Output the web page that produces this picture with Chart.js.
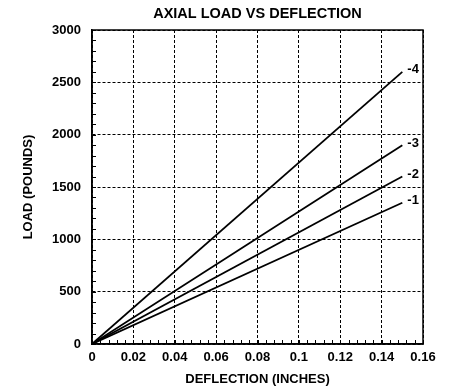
<!DOCTYPE html>
<html>
<head>
<meta charset="utf-8">
<script src="https://cdn.jsdelivr.net/npm/chart.js@4/dist/chart.umd.min.js"></script>
<style>
  body { margin: 0; background: #fff; }
  #wrap { width: 458px; height: 391px; }
</style>
</head>
<body>
<div id="wrap"><canvas id="grafico" width="458" height="391"></canvas></div>
<script>
// datos (deflexion en pulgadas, carga en libras)
const deflexion = [0, 0.15];
const serie1 = [0, 1350];
const serie2 = [0, 1600];
const serie3 = [0, 1900];
const serie4 = [0, 2600];
const etiquetas = ["-1", "-2", "-3", "-4"];
const ticksX = [0, 0.02, 0.04, 0.06, 0.08, 0.1, 0.12, 0.14, 0.16];
const ticksY = [0, 500, 1000, 1500, 2000, 2500, 3000];

const fuente = "'Liberation Sans', Arial, sans-serif";

function puntos(valores) {
  return deflexion.map((x, i) => ({ x: x, y: valores[i] }));
}

// marcas menores hacia dentro, marco y etiquetas de cada linea
const extras = {
  id: "extras",
  afterDatasetsDraw(chart) {
    const ctx = chart.ctx;
    const area = chart.chartArea;
    const sx = chart.scales.x;
    const sy = chart.scales.y;
    ctx.save();
    ctx.strokeStyle = "#000";
    ctx.lineWidth = 1;
    ctx.beginPath();
    for (let v = 0; v <= 3000; v += 100) {
      const py = Math.round(sy.getPixelForValue(v)) + 0.5;
      ctx.moveTo(area.left, py);
      ctx.lineTo(area.left + 4, py);
    }
    for (let k = 0; k <= 40; k++) {
      const px = Math.round(sx.getPixelForValue(k * 0.004)) + 0.5;
      ctx.moveTo(px, area.bottom);
      ctx.lineTo(px, area.bottom - 4);
    }
    ctx.stroke();

    // marco
    ctx.lineWidth = 1.5;
    ctx.strokeStyle = "#000";
    ctx.strokeRect(area.left, area.top, area.right - area.left, area.bottom - area.top);

    // etiquetas al final de cada linea
    ctx.fillStyle = "#000";
    ctx.font = "bold 13px " + fuente;
    ctx.textBaseline = "middle";
    ctx.textAlign = "left";
    chart.data.datasets.forEach((ds, i) => {
      const meta = chart.getDatasetMeta(i);
      const p = meta.data[meta.data.length - 1];
      ctx.fillText(etiquetas[i], p.x + 5, p.y - 2);
    });
    ctx.restore();
  }
};

const ctx = document.getElementById("grafico").getContext("2d");

new Chart(ctx, {
  type: "scatter",
  data: {
    datasets: [serie1, serie2, serie3, serie4].map((s, i) => ({
      label: etiquetas[i],
      data: puntos(s),
      showLine: true,
      borderColor: "#000",
      borderWidth: 1.8,
      pointRadius: 0,
      fill: false
    }))
  },
  options: {
    responsive: false,
    animation: false,
    layout: { padding: { left: 0, right: 35, top: 0, bottom: 0 } },
    scales: {
      x: {
        type: "linear",
        min: 0,
        max: 0.16,
        afterBuildTicks: (scale) => { scale.ticks = ticksX.map(v => ({ value: v })); },
        afterFit: (scale) => { scale.height = 47; },
        ticks: {
          color: "#000",
          font: { family: fuente, size: 13, weight: "bold" },
          padding: 6,
          maxRotation: 0,
          callback: (v) => String(Math.round(v * 100) / 100)
        },
        grid: { color: "#000", lineWidth: 1, drawTicks: false },
        border: { display: true, color: "#000", width: 1.5, dash: [3, 2] },
        title: {
          display: true,
          text: "DEFLECTION (INCHES)",
          color: "#000",
          font: { family: fuente, size: 13, weight: "bold" },
          padding: { top: 0, bottom: 4 }
        }
      },
      y: {
        type: "linear",
        min: 0,
        max: 3000,
        afterBuildTicks: (scale) => { scale.ticks = ticksY.map(v => ({ value: v })); },
        afterFit: (scale) => { scale.width = 92; },
        ticks: {
          color: "#000",
          font: { family: fuente, size: 13, weight: "bold" },
          padding: 11,
          callback: (v) => String(v)
        },
        grid: { color: "#000", lineWidth: 1, drawTicks: false },
        border: { display: true, color: "#000", width: 1.5, dash: [3, 2] },
        title: {
          display: true,
          text: "LOAD (POUNDS)",
          color: "#000",
          font: { family: fuente, size: 13, weight: "bold" },
          padding: { top: 21, bottom: 0 }
        }
      }
    },
    plugins: {
      legend: { display: false },
      tooltip: { enabled: false },
      title: {
        display: true,
        text: "AXIAL LOAD VS DEFLECTION",
        color: "#000",
        fullSize: false,
        font: { family: fuente, size: 14.5, weight: "bold" },
        padding: { top: 5, bottom: 7.6 }
      }
    }
  },
  plugins: [extras]
});
</script>
</body>
</html>
